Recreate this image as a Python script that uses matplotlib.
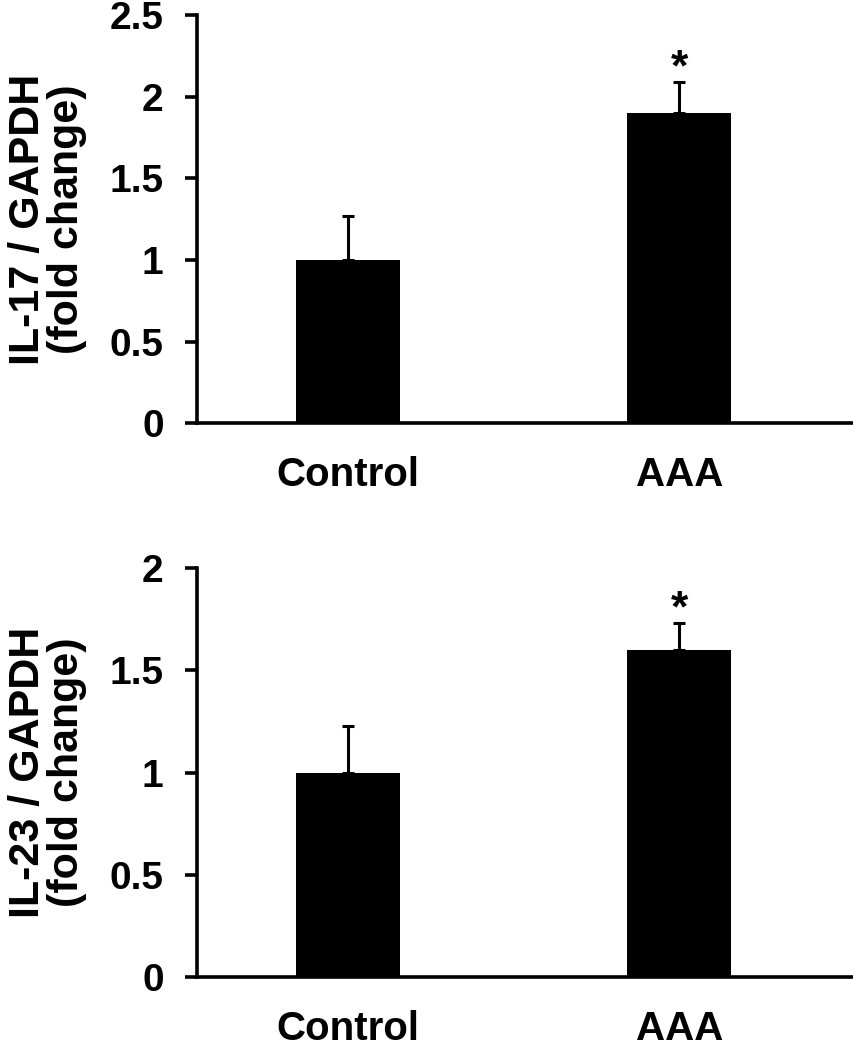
import matplotlib
matplotlib.use("Agg")
from matplotlib import pyplot as plt

plt.rcParams['font.family'] = ['Liberation Sans', 'DejaVu Sans']
plt.rcParams['font.weight'] = 'bold'

groups = ["Control", "AAA"]

il17_mean = [1.0, 1.9]
il17_err = [0.27, 0.19]
il17_sig = [False, True]

il23_mean = [1.0, 1.6]
il23_err = [0.23, 0.13]
il23_sig = [False, True]

fig = plt.figure(figsize=(8.54, 10.5), dpi=100)
ax1 = fig.add_axes([0.2307, 0.597, 0.769, 0.3886])
ax2 = fig.add_axes([0.2307, 0.0695, 0.769, 0.3895])


def draw_panel(ax, means, errs, sig, ymax, ystep, ylabel):
    x = list(range(len(groups)))
    ax.bar(x, means, width=0.314, color="black", zorder=2)
    ax.errorbar(x, means, yerr=[[0] * len(errs), errs], fmt="none",
                ecolor="black", elinewidth=2.2, capsize=4.5, capthick=2.2, zorder=3)
    for xi, m, e, s in zip(x, means, errs, sig):
        if s:
            ax.annotate("*", (xi, m + e), xytext=(0, 1), textcoords="offset points",
                        ha="center", va="baseline", fontsize=32, fontweight="bold")
    ax.set_xlim(-0.456, 1.526)
    ax.set_ylim(0, ymax)
    ticks = [i * ystep for i in range(int(round(ymax / ystep)) + 1)]
    ax.set_yticks(ticks)
    ax.set_yticklabels(["%g" % t for t in ticks])
    ax.set_xticks(x)
    ax.set_xticklabels(groups)
    ax.spines["top"].set_visible(False)
    ax.spines["right"].set_visible(False)
    ax.spines["left"].set_linewidth(2.6)
    ax.spines["bottom"].set_linewidth(2.6)
    ax.tick_params(axis="y", length=9, width=2.6, labelsize=28, pad=15)
    ax.tick_params(axis="x", length=0, labelsize=29, pad=24)
    ax.set_ylabel(ylabel, fontsize=31, fontweight="bold", linespacing=0.95)
    ax.yaxis.set_label_coords(-0.168, 0.5)


draw_panel(ax1, il17_mean, il17_err, il17_sig, 2.5, 0.5, "IL-17 / GAPDH\n(fold change)")
draw_panel(ax2, il23_mean, il23_err, il23_sig, 2.0, 0.5, "IL-23 / GAPDH\n(fold change)")

fig.savefig("out.png", dpi=100)
